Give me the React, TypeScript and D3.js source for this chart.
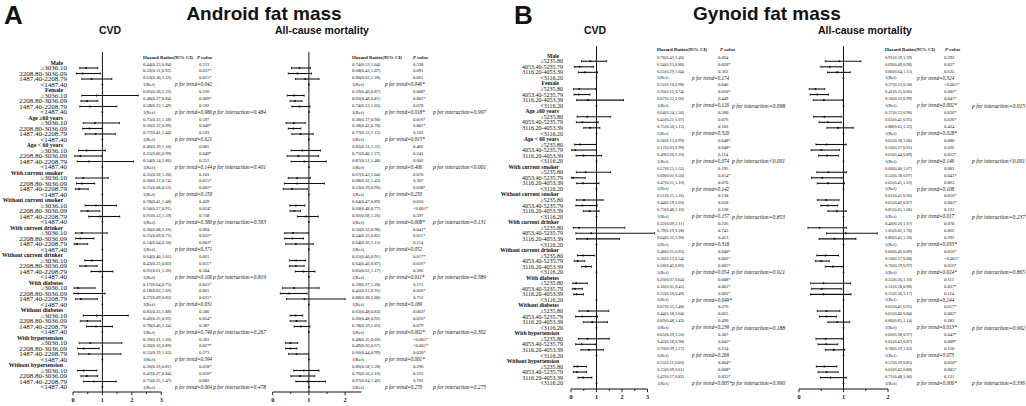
import React from 'react';
import * as d3 from 'd3';

const groups = ["Male", "Female", "Age ≥60 years", "Age < 60 years", "With current smoker", "Without current smoker", "With current drinker", "Without current drinker", "With diabetes", "Without diabetes", "With hypertension", "Without hypertension"];
const levelsA = ["≥3036.10", "2208.80-3036.09", "1487.40-2208.79", "<1487.40"];
const levelsB = ["≥5235.80", "4053.40-5235.79", "3116.20-4053.39", "<3116.20"];
const axisTicks = [0, 1, 2, 3];

// Panel A, CVD
const aCvdHr = [0.44,0.32,0.63, 0.81,0.48,0.58, 0.75,0.56,0.77, 0.46,0.25,0.54, 0.35,0.30,0.21, 0.78,0.50,0.91, 0.30,0.25,0.14, 0.64,0.43,0.91, 0.17,0.18,0.27, 0.81,0.49,0.78, 0.59,0.36,0.55, 0.36,0.47,0.71];
const aCvdLo = [0.23,0.11,0.30, 0.30,0.27,0.23, 0.35,0.32,0.41, 0.19,0.06,0.14, 0.10,0.12,0.08, 0.41,0.27,0.53, 0.08,0.09,0.04, 0.40,0.23,0.61, 0.04,0.03,0.09, 0.35,0.25,0.46, 0.21,0.16,0.19, 0.16,0.27,0.35];
const aCvdHi = [0.84,0.93,1.32, 2.22,0.84,1.49, 1.58,0.99,1.44, 1.10,0.99,2.06, 1.20,0.74,0.52, 1.48,0.91,1.59, 1.16,0.71,0.50, 1.01,0.82,1.36, 0.75,1.09,0.83, 1.88,0.93,1.34, 1.66,0.89,1.63, 0.81,0.84,1.47];
const aCvdP = ["0.212","0.037*","0.015*", "0.226","0.009*","0.592", "0.597","0.049*","0.593", "0.081","0.049*","0.351", "0.103","0.015*","0.002*", "0.429","0.024*","0.738", "0.094","0.032*","0.003*", "0.061","0.011*","0.584", "0.021*","0.061","0.025*", "0.586","0.034*","0.387", "0.301","0.027*","0.273", "0.018*","0.010*","0.082"];
const aCvdTrend = ["0.042","0.986","0.621","0.144","0.150","0.580","0.371","0.106","0.031","0.749","0.594","0.004"];
const aCvdInter = ["=0.484","=0.401","=0.563","=0.819","=0.267","=0.478"];

// Panel A, all-cause mortality
const aAllHr = [0.74,0.68,0.90, 0.59,0.62,0.74, 0.58,0.58,0.77, 0.82,0.71,0.87, 0.67,0.68,0.53, 0.64,0.60,0.92, 0.56,0.54,0.64, 0.65,0.64,0.85, 0.59,0.45,0.88, 0.63,0.66,0.78, 0.49,0.49,0.66, 0.86,0.76,0.97];
const aAllLo = [0.52,0.43,0.63, 0.40,0.48,0.53, 0.37,0.43,0.53, 0.51,0.40,0.51, 0.43,0.32,0.29, 0.47,0.48,0.68, 0.33,0.33,0.36, 0.46,0.46,0.62, 0.27,0.21,0.38, 0.48,0.48,0.59, 0.35,0.36,0.44, 0.58,0.50,0.64];
const aAllHi = [1.04,1.07,1.28, 0.87,0.81,1.03, 0.90,0.78,1.12, 1.32,1.27,1.48, 1.04,1.43,0.96, 0.89,0.77,1.26, 0.98,0.85,1.12, 0.91,0.87,1.17, 1.28,0.95,2.00, 0.83,0.92,1.03, 0.69,0.67,0.99, 1.28,1.16,1.46];
const aAllP = ["0.528","0.091","0.061", "0.008*","0.001*","0.078", "0.016*","0.001*","0.162", "0.402","0.241","0.602", "0.070","0.307","0.038*", "0.010","<0.001*","0.597", "0.041*","0.011*","0.114", "0.017*","0.016*","0.366", "0.175","0.036*","0.753", "0.002*","0.016*","0.079", "<0.001*","<0.001*","0.020*", "0.290","0.222","0.701"];
const aAllTrend = ["0.046*","0.018*","0.015*","0.406","0.250","0.008*","0.052","0.011*","0.189","0.002*","0.001*","0.270"];
const aAllInter = ["=0.997","<0.001","=0.131","=0.589","=0.302","=0.275"];

// Panel B, CVD
const bCvdHr = [0.76,0.34,0.55, 0.32,0.30,0.67, 0.64,0.45,0.75, 0.36,0.17,0.49, 0.57,0.09,0.47, 0.51,0.44,0.73, 0.32,0.79,0.64, 0.48,0.26,0.58, 0.20,0.16,0.22, 0.67,0.44,0.83, 0.65,0.42,0.70, 0.25,0.23,0.47];
const bCvdLo = [0.41,0.13,0.29, 0.10,0.12,0.22, 0.24,0.21,0.50, 0.13,0.03,0.20, 0.21,0.01,0.21, 0.21,0.19,0.48, 0.09,0.19,0.22, 0.25,0.13,0.42, 0.07,0.05,0.10, 0.31,0.18,0.48, 0.29,0.18,0.39, 0.11,0.09,0.27];
const bCvdHi = [1.40,0.88,1.04, 0.98,0.74,2.06, 1.56,1.07,1.13, 0.99,0.99,1.20, 1.55,0.56,1.10, 1.26,1.03,1.10, 2.11,3.28,1.90, 0.93,0.54,0.80, 0.64,0.45,0.49, 1.48,1.04,1.43, 1.50,0.98,1.27, 0.60,0.61,0.82];
const bCvdP = ["0.064","0.028*","0.362", "0.046","0.010*","0.449", "0.280","0.076","0.102", "0.048*","0.048*","0.114", "0.195","0.014*","0.070", "0.138","0.058","0.128", "0.226","0.743","0.413", "0.040*","0.001*","0.005*", "0.008*","0.001*","0.001*", "0.276","0.065","0.490", "0.307","0.045*","0.234", "0.004*","0.008*","0.035*"];
const bCvdTrend = ["0.174","0.126","0.320","0.074","0.142","0.157","0.318","0.054","0.049*","0.239","0.269","0.005*"];
const bCvdInter = ["=0.098","<0.001","=0.853","=0.921","=0.188","=0.990"];

// Panel B, all-cause mortality
const bAllHr = [0.91,0.69,0.86, 0.37,0.41,0.56, 0.57,0.65,0.88, 0.62,0.50,0.63, 0.66,0.52,0.65, 0.61,0.65,0.85, 0.46,1.05,0.80, 0.60,0.50,0.76, 0.55,0.51,0.55, 0.62,0.62,0.86, 0.60,0.61,0.78, 0.57,0.62,0.71];
const bAllLo = [0.59,0.49,0.64, 0.23,0.25,0.32, 0.33,0.45,0.63, 0.38,0.27,0.44, 0.40,0.28,0.41, 0.41,0.49,0.65, 0.20,0.62,0.45, 0.40,0.37,0.59, 0.26,0.28,0.26, 0.41,0.46,0.65, 0.38,0.43,0.59, 0.39,0.43,0.48];
const bAllHi = [1.39,0.96,1.15, 0.58,0.66,0.99, 0.96,0.95,1.22, 1.06,0.91,0.89, 1.07,0.97,1.02, 0.90,0.87,1.06, 1.07,1.76,1.28, 0.89,0.68,0.97, 1.16,0.96,1.17, 0.92,0.84,1.14, 0.97,0.87,1.03, 0.85,0.88,1.06];
const bAllP = ["0.292","0.027","0.635", "<0.001*","0.001*","0.047*", "0.036*","0.026*","0.424", "0.080","0.026","0.012*", "0.081","0.043*","0.063", "0.016*","0.005*","0.131", "0.070","0.862","0.292", "0.016*","<0.001*","0.016*", "0.111","0.037*","0.114", "0.017*","0.003*","0.283", "0.047*","0.009*","0.120", "0.010*","0.005*","0.121"];
const bAllTrend = ["0.324","0.002*","0.028*","0.146","0.108","0.017","0.033*","0.024*","0.244","0.013*","0.073","0.006*"];
const bAllInter = ["=0.015","<0.001","=0.237","=0.865","=0.992","=0.336"];

const SERIF = "'Liberation Serif','Times New Roman',serif";
const SANS = "'Liberation Sans',Arial,sans-serif";
const INK = '#111';

const fmt = (v: number) => v.toFixed(2);

type ForestCfg = {
  hr: number[]; lo: number[]; hi: number[]; p: string[]; trend: string[]; inter: string[];
  x0: number; unit: number; axisMax: number; tickMax: number;
  hrX: number; pX: number; trendX: number; intX: number; pHeadX: number;
  title: string; titleX: number; hrSize: number;
};
type PanelCfg = {
  letter: string; letterX: number; title: string; titleX: number; levels: string[];
  labelX: number; headX: number; row0: number; step: number; topY: number; axisY: number; headerY: number;
  labelSize: number; labelSx: number; headSize: number; headSx: number; forests: ForestCfg[];
};

const panels: PanelCfg[] = [
  {
    letter: 'A', letterX: 4, title: 'Android fat mass', titleX: 264, levels: levelsA,
    labelX: 67, headX: 63, row0: 62.5, step: 5.5, topY: 52, axisY: 392, headerY: 57.5,
    labelSize: 6.1, labelSx: 1.15, headSize: 5.8, headSx: 1.0,
    forests: [
      { hr: aCvdHr, lo: aCvdLo, hi: aCvdHi, p: aCvdP, trend: aCvdTrend, inter: aCvdInter,
        x0: 73, unit: 29.4, axisMax: 3, tickMax: 3, hrX: 143, pX: 199, trendX: 175, intX: 213, pHeadX: 197,
        title: 'CVD', titleX: 110, hrSize: 4.6 },
      { hr: aAllHr, lo: aAllLo, hi: aAllHi, p: aAllP, trend: aAllTrend, inter: aAllInter,
        x0: 272.7, unit: 36.2, axisMax: 2.45, tickMax: 2, hrX: 352, pX: 413, trendX: 385, intX: 433, pHeadX: 413,
        title: 'All-cause mortality', titleX: 322, hrSize: 4.6 },
    ],
  },
  {
    letter: 'B', letterX: 514, title: 'Gynoid fat mass', titleX: 767, levels: levelsB,
    labelX: 563, headX: 559, row0: 55.7, step: 5.55, topY: 46, axisY: 389, headerY: 49,
    labelSize: 6, labelSx: 1.0, headSize: 5.6, headSx: 1.0,
    forests: [
      { hr: bCvdHr, lo: bCvdLo, hi: bCvdHi, p: bCvdP, trend: bCvdTrend, inter: bCvdInter,
        x0: 571, unit: 25.5, axisMax: 3, tickMax: 3, hrX: 657, pX: 718, trendX: 692, intX: 732, pHeadX: 720,
        title: 'CVD', titleX: 595, hrSize: 4.4 },
      { hr: bAllHr, lo: bAllLo, hi: bAllHi, p: bAllP, trend: bAllTrend, inter: bAllInter,
        x0: 799, unit: 44.5, axisMax: 2, tickMax: 2, hrX: 885, pX: 944, trendX: 917, intX: 972, pHeadX: 945,
        title: 'All-cause mortality', titleX: 865, hrSize: 4.4 },
    ],
  },
];

function Txt(props: { x: number; y: number; size: number; children: React.ReactNode; anchor?: string; weight?: string; italic?: boolean; sx?: number; family?: string }) {
  const { x, y, size, children, anchor = 'start', weight = 'normal', italic = false, sx = 1, family = SERIF } = props;
  return (
    <text transform={`translate(${x},${y}) scale(${sx},1)`} fontSize={size} textAnchor={anchor as any}
      fontWeight={weight} fontStyle={italic ? 'italic' : 'normal'} fontFamily={family} fill={INK} dy="0.35em">
      {children}
    </text>
  );
}

function Forest({ f, panel }: { f: ForestCfg; panel: PanelCfg }) {
  const x = d3.scaleLinear().domain([0, f.axisMax]).range([f.x0, f.x0 + f.unit * f.axisMax]);
  const rowY = d3.scaleLinear().domain([0, 59]).range([panel.row0, panel.row0 + 59 * panel.step]);
  const lineStep = (panel.step * 5) / 4;
  const lineY = (g: number, k: number) => rowY(g * 5 + 4) - (3 - k) * lineStep;
  const ticks = d3.range(0, f.tickMax + 1e-9, 0.5);
  const labels = axisTicks.filter((t) => t <= f.tickMax);
  return (
    <g>
      <text x={f.titleX} y={34} fontSize={10.5} fontWeight="bold" fontFamily={SANS} textAnchor="middle" fill={INK}>{f.title}</text>
      <line x1={x(1)} x2={x(1)} y1={panel.topY} y2={panel.axisY} stroke={INK} strokeWidth={1} />
      {groups.map((_, g) => (
        <g key={g}>
          {[0, 1, 2].map((k) => {
            const i = g * 3 + k;
            const y = rowY(g * 5 + 1 + k);
            return (
              <g key={k}>
                <line x1={x(f.lo[i])} x2={x(f.hi[i])} y1={y} y2={y} stroke={INK} strokeWidth={1.1} />
                <line x1={x(f.lo[i])} x2={x(f.lo[i])} y1={y - 1.1} y2={y + 1.1} stroke={INK} strokeWidth={0.8} />
                <line x1={x(f.hi[i])} x2={x(f.hi[i])} y1={y - 1.1} y2={y + 1.1} stroke={INK} strokeWidth={0.8} />
                <circle cx={x(f.hr[i])} cy={y} r={1.05} fill={INK} />
              </g>
            );
          })}
          <circle cx={x(1)} cy={rowY(g * 5 + 4)} r={0.9} fill={INK} />
        </g>
      ))}
      <line x1={x(0)} x2={x(f.axisMax)} y1={panel.axisY} y2={panel.axisY} stroke={INK} strokeWidth={1.1} />
      {ticks.map((t) => (
        <line key={t} x1={x(t)} x2={x(t)} y1={panel.axisY} y2={panel.axisY + (Number.isInteger(t) ? 3.2 : 2)} stroke={INK} strokeWidth={0.9} />
      ))}
      {labels.map((t) => (
        <Txt key={t} x={x(t)} y={panel.axisY + 8} size={6.2} anchor="middle" weight="bold">{t}</Txt>
      ))}
      <Txt x={f.hrX} y={panel.headerY} size={4.9} weight="bold">Hazard Ratios(95% CI)</Txt>
      <Txt x={f.pHeadX} y={panel.headerY} size={5} weight="bold" italic>P value</Txt>
      {groups.map((_, g) => (
        <g key={'t' + g}>
          {[0, 1, 2].map((k) => {
            const i = g * 3 + k;
            return (
              <g key={k}>
                <Txt x={f.hrX} y={lineY(g, k)} size={f.hrSize}>{`${fmt(f.hr[i])}(${fmt(f.lo[i])},${fmt(f.hi[i])})`}</Txt>
                <Txt x={f.pX} y={lineY(g, k)} size={4.6}>{f.p[i]}</Txt>
              </g>
            );
          })}
          <Txt x={f.hrX} y={lineY(g, 3)} size={f.hrSize}>1(Ref)</Txt>
          <Txt x={f.trendX} y={lineY(g, 3)} size={5.2} italic>{`p for trend=${f.trend[g]}`}</Txt>
          {g % 2 === 1 && (
            <Txt x={f.intX} y={lineY(g, 3)} size={5.6} italic>{`p for interaction${f.inter[(g - 1) / 2]}`}</Txt>
          )}
        </g>
      ))}
    </g>
  );
}

function Panel({ panel }: { panel: PanelCfg }) {
  const rowY = d3.scaleLinear().domain([0, 59]).range([panel.row0, panel.row0 + 59 * panel.step]);
  return (
    <g>
      <text x={panel.letterX} y={24} fontSize={26} fontWeight="bold" fontFamily={SANS} fill={INK}>{panel.letter}</text>
      <text x={panel.titleX} y={20} fontSize={19} fontWeight="bold" fontFamily={SANS} textAnchor="middle" fill={INK}>{panel.title}</text>
      {groups.map((name, g) => (
        <g key={g}>
          <Txt x={panel.headX} y={rowY(g * 5)} size={panel.headSize} sx={panel.headSx} anchor="end" weight="bold">{name}</Txt>
          {panel.levels.map((lv, k) => (
            <Txt key={k} x={panel.labelX} y={rowY(g * 5 + 1 + k)} size={panel.labelSize} sx={panel.labelSx} anchor="end">{lv}</Txt>
          ))}
        </g>
      ))}
      {panel.forests.map((f, i) => <Forest key={i} f={f} panel={panel} />)}
    </g>
  );
}

export default function App() {
  return (
    <svg width={1026} height={406} viewBox="0 0 1026 406" style={{ position: 'absolute', left: 0, top: 0, background: '#fff' }}>
      <rect x={0} y={0} width={1026} height={406} fill="#fff" />
      {panels.map((p, i) => <Panel key={i} panel={p} />)}
    </svg>
  );
}
